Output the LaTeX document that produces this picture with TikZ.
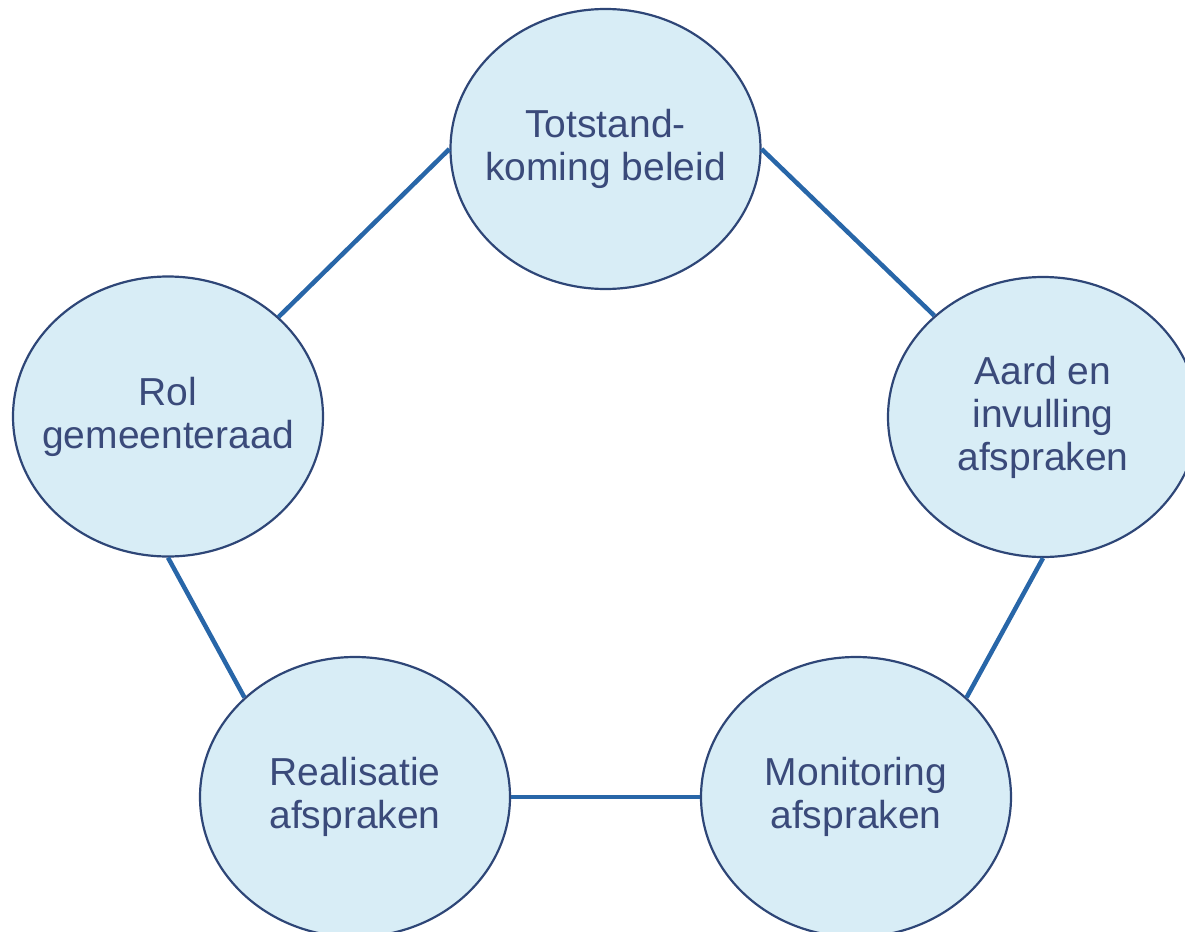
\documentclass[tikz,border=0pt]{standalone}
\usepackage{fontspec}
\setmainfont{Liberation Sans}
\usetikzlibrary{shapes.geometric}
\definecolor{fillc}{HTML}{D8EDF6}
\definecolor{borderc}{HTML}{2E4677}
\definecolor{textc}{HTML}{3A4A7A}
\definecolor{linkc}{HTML}{2866A8}
\begin{document}
\begin{tikzpicture}[x=1pt,y=-1pt,
  bubble/.style={ellipse, draw=borderc, line width=2.2pt, fill=fillc,
    minimum width=310pt, minimum height=280pt, inner sep=-80pt,
    align=center, text=textc, font=\fontsize{39}{43}\selectfont},
  link/.style={draw=linkc, line width=4.5pt}]
\useasboundingbox (0,0) rectangle (1185,931);
\clip (0,0) rectangle (1185,931);
\node[bubble] (top) at (605.5,149) {Totstand-\\koming beleid};
\node[bubble] (right) at (1043,417) {Aard en\\invulling\\afspraken};
\node[bubble] (bright) at (856,797) {Monitoring\\afspraken};
\node[bubble] (bleft) at (355,797) {Realisatie\\afspraken};
\node[bubble] (left) at (168,416.5) {Rol\\gemeenteraad};
\draw[link] (top.west) -- (left.42);
\draw[link] (top.east) -- (right.137.5);
\draw[link] (right.south) -- (bright.42);
\draw[link] (bleft.east) -- (bright.west);
\draw[link] (left.south) -- (bleft.138);
\end{tikzpicture}
\end{document}
